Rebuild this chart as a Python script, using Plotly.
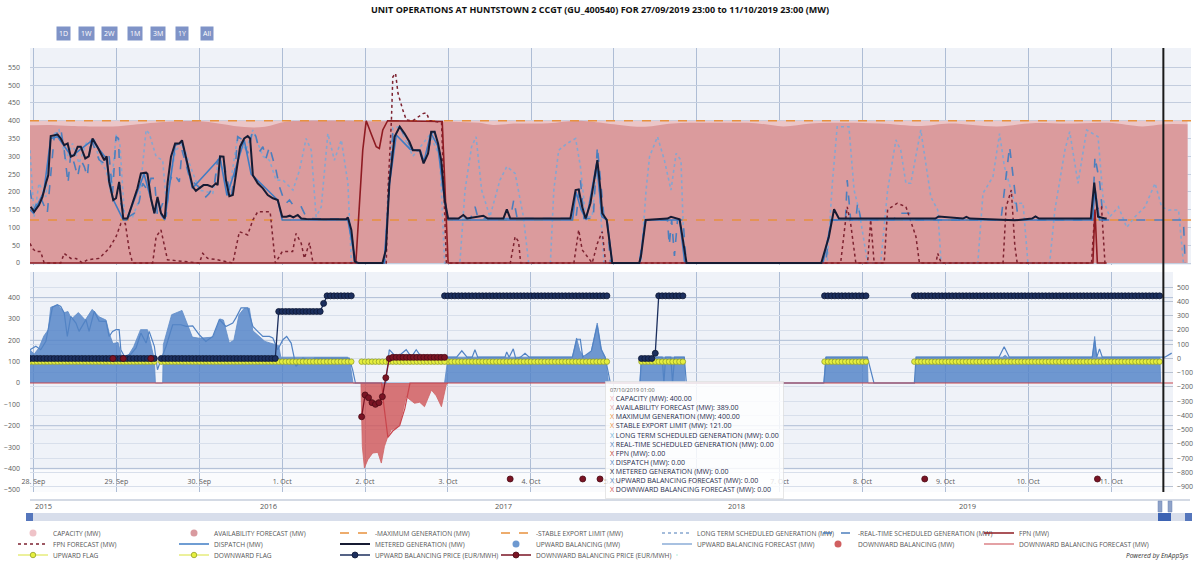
import plotly.graph_objects as go
import pandas as pd

# ---------------- data (hours after 27/09/2019 23:00, value) ----------------
T0 = pd.Timestamp("2019-09-27 23:00")
NOW_H = 328

CAPACITY = [(0, 400), (335, 400)]
AVAILABILITY = [(0, 387), (6, 388), (12, 385), (24, 384), (30, 389), (40, 397), (50, 398), (56, 390),
                (62, 382), (68, 383), (74, 397), (80, 400), (94, 400), (100, 398), (110, 400), (122, 397),
                (130, 394), (134, 388), (140, 392), (150, 393), (158, 400), (162, 398), (170, 389),
                (178, 383), (186, 392), (200, 394), (210, 393), (218, 384), (226, 392), (236, 394),
                (246, 392), (258, 385), (266, 392), (280, 384), (290, 393), (300, 392), (312, 394),
                (322, 384), (328, 390), (335, 390)]
MAX_GEN = [(0, 400), (336, 400)]
STABLE_EXPORT = [(0, 121), (336, 121)]

LONG_TERM = [(0, 317), (1.2, 130), (2.6, 224), (4.6, 186), (6, 355), (8.4, 374), (10.4, 289), (12.3, 336),
             (14.2, 280), (16.2, 336), (18.6, 350), (20, 290), (22, 261), (23.4, 196), (24.9, 360), (26, 336),
             (27.3, 140), (29.7, 130), (31.6, 177), (33.6, 374), (34.5, 364), (36.5, 299), (38.4, 289),
             (39.4, 177), (40.3, 224), (42.2, 317), (44.2, 336), (46.1, 280), (49, 205), (52.9, 196),
             (54.8, 299), (57.7, 205), (60.1, 355), (62.5, 317), (64.5, 374), (67.4, 300), (69.3, 289),
             (71.2, 233), (73.2, 233), (76.1, 205), (78, 261), (79.9, 350), (81.4, 317), (82.8, 130),
             (84.3, 158), (86.2, 364), (88.1, 289), (90.1, 346), (92, 224), (93, 0), (102.6, 0), (105, 380),
             (107, 383), (110.8, 300), (115.7, 360), (118.6, 300), (120, 0), (124.4, 0), (125.9, 205),
             (127.8, 327), (129.1, 355), (130.7, 205), (133.1, 130), (136, 233), (138, 271), (140.4, 252),
             (142.8, 130), (144.3, 0), (150.6, 0), (151.6, 205), (153, 317), (155.4, 336), (157.9, 350),
             (159.3, 271), (160.8, 130), (162.7, 130), (164.2, 290), (166.1, 0), (176.8, 0), (178.3, 205),
             (179.3, 299), (181.6, 355), (183.6, 289), (185.5, 205), (187, 308), (188.4, 289), (189.4, 0),
             (230.7, 0), (232.2, 224), (233.6, 383), (237, 383), (238.5, 205), (239.9, 149), (242.4, 0),
             (246.2, 0), (248.2, 205), (250.6, 346), (252, 317), (253.5, 224), (254.9, 224), (257.8, 374),
             (260.7, 186), (262.7, 149), (263.7, 0), (274.3, 0), (275.8, 196), (278.7, 243), (280.6, 364),
             (282, 271), (285, 168), (287.4, 168), (288.8, 0), (295.1, 0), (296.6, 149), (299.5, 317),
             (300.9, 369), (303.3, 224), (305.8, 374), (309.1, 355), (310.6, 177), (312.5, 130), (315, 158),
             (317.4, 100), (319.8, 130), (322.7, 158), (325.6, 224), (327.5, 158), (329.5, 149),
             (332.4, 149), (333.8, 0)]

REAL_TIME = [(0, 205), (1, 149), (3, 186), (5, 140), (7, 355), (8.9, 378), (9.9, 317), (11, 224), (11.8, 308),
             (12.8, 280), (13.8, 243), (14.7, 290), (15.7, 271), (16.6, 243), (17.6, 350), (18.6, 327),
             (20, 290), (21.5, 280), (22.9, 300), (23.9, 196), (24.9, 355), (25.6, 350), (26.3, 168),
             (27.8, 125), (28.7, 130), (30.2, 140), (31.6, 172), (32.6, 224), (34, 205), (35, 238), (36, 238),
             (36.9, 130), (38.4, 168), (39.4, 130), (40.3, 224), (41.3, 252), (42.2, 243), (43.2, 228),
             (44, 317), (45.1, 280), (46.1, 243), (47.6, 224), (49, 214), (50, 205), (50.9, 186), (51.9, 196),
             (53.4, 224), (54.3, 289), (55.8, 299), (56.7, 252), (58.2, 186), (59.2, 243), (60.1, 355),
             (61.6, 346), (63, 308), (64.5, 374), (65.4, 355), (66.4, 313), (67.4, 327), (68.3, 294),
             (69.3, 327), (70.5, 289), (71.2, 261), (72.2, 214), (73.2, 186), (74.1, 168), (75.1, 177),
             (76.1, 163), (77.5, 158), (78.5, 158), (79.9, 130), (80.9, 125), (91.5, 123), (92, 128),
             (93, 93), (93.9, 0), (102.6, 0), (105, 364), (107, 383), (108.9, 346), (110.8, 317), (112.8, 312),
             (113.7, 289), (115.2, 308), (116.2, 364), (117.1, 369), (118.6, 308), (119.5, 205), (121, 125),
             (127.5, 125), (128.8, 158), (129.7, 125), (139, 125), (140, 177), (141, 125), (158, 125),
             (159.3, 233), (160.3, 125), (163, 125), (164.2, 327), (165.1, 224), (166.1, 130), (167.1, 111),
             (168, 0), (176.3, 0), (178.2, 121), (184.5, 121), (185, 50), (185.7, 121), (186.5, 20),
             (187.4, 121), (189, 121), (189.9, 0), (230.3, 0), (231.7, 121), (236, 121), (236.5, 233),
             (237.5, 121), (239, 121), (239.5, 168), (240.5, 121), (250, 121), (251, 140), (255, 140),
             (256, 121), (281, 121), (283.5, 327), (285, 205), (286, 121), (307.5, 121), (308.2, 299),
             (309.6, 224), (310.6, 121), (333.8, 121), (334.3, 0)]

FPN = [(0, 0), (94.3, 0), (96.3, 317), (97.3, 400), (98.7, 364), (100.2, 327), (101.1, 322), (102.1, 374),
       (103.5, 400), (107, 400), (113, 398), (119.3, 398), (121, 0), (307.6, 0), (308.2, 150), (308.9, 0),
       (311.6, 0)]

FPN_FORECAST = [(0, 55), (0.7, 41), (1.7, 32), (3.1, 32), (4.1, 0), (8.9, 0), (9.9, 27), (11.8, 13), (13.3, 13),
                (15.2, 0), (16.6, 9), (20, 13), (22.9, 41), (24.9, 74), (26.3, 111), (27.6, 111), (28.7, 37),
                (29.7, 0), (35.5, 0), (36.5, 74), (37.9, 93), (38.9, 46), (39.8, 9), (49, 0), (50, 27),
                (51.4, 13), (53.8, 10), (58.7, 0), (60.6, 88), (63, 79), (64.5, 121), (65.9, 144), (69.5, 144),
                (71, 0), (73, 32), (76, 32), (77, 83), (78.5, 55), (79.4, 13), (80.9, 57), (81.9, 0),
                (103.1, 0), (103.6, 205), (104.6, 402), (105, 523), (105.8, 533), (106.5, 477), (107.9, 430),
                (108.9, 402), (110.8, 400), (113.7, 420), (114.7, 422), (115.7, 400), (119.1, 395), (120.5, 0),
                (139, 0), (140.4, 74), (141.4, 60), (142, 0), (157.4, 0), (158.8, 93), (159.8, 37), (162.7, 0),
                (164.2, 55), (165.6, 88), (166.6, 0), (234.6, 0), (236.5, 158), (237.5, 111), (239, 0),
                (242.4, 0), (243.3, 121), (244.3, 0), (247.2, 0), (248.2, 150), (251, 168), (253.5, 158),
                (256.4, 74), (257.4, 0), (262.2, 0), (262.7, 27), (263.7, 0), (281.6, 0), (282.5, 158),
                (284, 205), (285, 50), (285.7, 0), (307.2, 0), (308.2, 149), (310.1, 158), (311.1, 0),
                (312, 0)]

DISPATCH = [(0, 150), (1, 140), (4, 200), (6, 350), (8, 355), (12, 300), (18, 345), (22, 295), (24, 180),
            (27, 121), (28, 121), (33, 250), (35, 180), (36, 140), (37, 180), (38, 135), (39, 121), (42, 330),
            (44, 340), (47, 210), (55, 295), (57, 190), (59, 250), (62, 345), (64, 250), (71.7, 177),
            (73, 121), (92, 121), (93.5, 40), (94.5, 0), (102.5, 0), (104, 220), (106, 360), (110, 320),
            (113, 315), (114, 285), (116, 365), (118, 330), (120, 175), (121, 121), (157, 121), (158, 200),
            (159.5, 150), (161, 121), (164, 280), (165.5, 130), (167, 121), (168.5, 0), (176.5, 0),
            (178, 121), (188, 121), (189.5, 0), (229.5, 0), (232, 121), (307.5, 121), (308.2, 210),
            (309.5, 121), (311.6, 121)]

METERED = [(0.2, 158), (1.2, 144), (2.6, 163), (3.6, 186), (4.6, 224), (5.3, 247), (6, 357), (7, 360), (8, 361),
           (8.9, 350), (9.9, 331), (10.9, 336), (11.8, 299), (12.8, 303), (13.8, 327), (14.7, 327), (16, 294),
           (17, 300), (18.1, 350), (19.5, 327), (20.5, 308), (21.5, 289), (22.2, 300), (22.9, 228),
           (24.1, 177), (24.9, 182), (25.8, 228), (27, 125), (28.2, 125), (29.7, 168), (31.1, 210),
           (32.1, 252), (33.6, 254), (34, 250), (35, 182), (36, 140), (36.9, 186), (37.9, 140), (39, 125),
           (39.8, 224), (40.8, 299), (42, 336), (43.2, 336), (44, 345), (45.1, 299), (46.1, 257), (47.1, 214),
           (48, 203), (49, 210), (50.2, 219), (51.4, 219), (52.7, 214), (53.8, 224), (54.3, 219), (55, 300),
           (56, 299), (56.7, 233), (57.7, 188), (58.7, 191), (59.8, 257), (60.8, 327), (62, 350), (63, 357),
           (63.7, 350), (64.5, 247), (65.9, 224), (67.4, 210), (68.8, 191), (70.3, 182), (71.7, 177),
           (73, 130), (74.2, 130), (75.2, 133), (76.2, 128), (77.5, 135), (78.5, 125), (80, 124), (85, 123),
           (91.5, 123), (92, 128), (93, 93), (94, 4), (95, 0), (102, 0), (103, 37), (104, 224), (105.5, 355),
           (107, 383), (108.4, 364), (109.8, 341), (110.8, 317), (112.8, 317), (113.9, 280), (115.2, 308),
           (116.1, 369), (117.1, 369), (118.1, 336), (119, 289), (120, 177), (121, 125), (124, 125),
           (125.4, 135), (126.5, 125), (131.2, 133), (132.5, 125), (137, 125), (138, 151), (139, 125),
           (156.4, 125), (157.9, 205), (158.8, 207), (159.8, 158), (160.8, 125), (162.2, 168), (163.2, 224),
           (164.2, 289), (165.1, 205), (165.6, 140), (166.9, 121), (167.9, 46), (168.5, 0), (176.3, 0),
           (176.8, 18), (178.2, 121), (181, 123), (184.5, 125), (185.5, 130), (188, 123), (188.5, 93),
           (190, 0), (229, 0), (231.2, 74), (232.7, 151), (234.1, 125), (262, 125), (263, 131), (270, 125),
           (271, 130), (272, 125), (285, 120), (290, 125), (291, 131), (292, 125), (307, 125), (308, 226),
           (309.1, 130), (311.1, 125), (311.6, 125)]

UP_BALANCING = [(0, 156), (1.2, 135), (2.6, 165), (4, 220), (5.3, 250), (6, 355), (8, 365), (10, 330), (11, 335),
                (12, 300), (14, 330), (16, 295), (18, 345), (20, 310), (22, 295), (23, 230), (24, 185),
                (25.5, 190), (26.5, 125), (28.3, 125), (30, 170), (32, 250), (34, 250), (35, 185), (36, 110),
                (36.3, 0), (38.4, 0), (38.6, 180), (40, 270), (41, 320), (44, 340), (45, 300), (47, 215),
                (49, 210), (53, 215), (55, 300), (56, 295), (57.7, 188), (59, 200), (60.5, 320), (62, 350),
                (63.5, 350), (64.5, 245), (68, 195), (71, 180), (72, 175), (72.6, 121), (92, 121), (92.6, 100),
                (93.5, 0), (120, 0), (121, 121), (157, 121), (158.2, 211), (159.2, 150), (160.5, 121),
                (162.5, 150), (164.2, 281), (165.5, 150), (166.5, 121), (167.5, 0), (176.5, 0), (177, 121),
                (189.4, 121), (189.6, 0), (229.8, 0), (230.3, 121), (242.4, 121), (242.6, 0), (256.2, 0),
                (256.5, 121), (281.5, 121), (282.3, 130), (283, 121), (307.5, 121), (308.2, 218),
                (308.8, 121), (327.1, 121), (327.3, 0)]

UP_BAL_FORECAST = [(0, 156), (1.7, 172), (3.1, 156), (4.6, 195), (6.5, 355), (7.9, 367), (8.9, 359), (9.9, 328),
                   (10.8, 218), (11.8, 312), (13.3, 281), (14.2, 242), (16.2, 297), (17.1, 242), (18.6, 336),
                   (20, 290), (22, 289), (22.9, 218), (23.9, 242), (24.9, 250), (25.8, 250), (26.3, 156),
                   (27.3, 125), (29.2, 135), (30.7, 164), (32.1, 234), (33.6, 187), (34.5, 242), (36, 172),
                   (36.9, 62), (37.9, 109), (39.4, 172), (41.3, 273), (43.7, 273), (45.2, 265), (47.1, 268),
                   (49, 226), (50.9, 195), (52.9, 218), (54.8, 297), (56.7, 265), (58.7, 281), (59.6, 305),
                   (61.1, 352), (63, 352), (64.5, 265), (65.9, 242), (67.4, 218), (69.3, 218), (70.3, 211),
                   (71.7, 156), (73.2, 203), (74.3, 218), (75.6, 187), (77, 78), (79, 117), (81.4, 101),
                   (82.4, 117), (92.4, 117), (93.4, 62), (94.2, 0), (103, 0), (104, 156), (105.5, 130),
                   (107, 130), (108.9, 156), (110.4, 121), (111.8, 156), (113.3, 121), (123.5, 121),
                   (125, 151), (126.5, 121), (128, 121), (128.8, 156), (129.6, 121), (137.5, 121), (138, 145),
                   (138.7, 121), (139.9, 160), (140.6, 115), (142, 121), (143.3, 139), (144.5, 121), (157, 121),
                   (158.3, 205), (159.3, 205), (160, 121), (162.5, 150), (164.2, 270), (165.3, 160),
                   (166.5, 121), (168, 0), (176.6, 0), (177, 121), (183, 121), (183.5, 0), (184, 121),
                   (185.5, 121), (186, 0), (186.6, 121), (189.4, 121), (190, 0), (229.8, 0), (230.5, 121),
                   (242.4, 121), (244.3, 0), (256, 0), (256.5, 121), (280.5, 121), (282, 170), (283.5, 121),
                   (307.5, 121), (308.2, 200), (308.8, 121), (309.6, 160), (310.4, 121), (328.5, 121),
                   (330.5, 140)]

DOWN_BALANCING = [(95.8, 0), (96.2, -297), (96.8, -398), (97.8, -359), (99.2, -328), (100.7, -325),
                  (101.7, -375), (102.6, -297), (103.6, -250), (104.6, -219), (106, -211), (107, -195),
                  (108.9, -64), (111.3, -95), (112.8, -90), (114.2, -111), (116.2, -33), (117.6, -60),
                  (119.1, -111), (120.5, -8), (121, 0)]

DOWN_BAL_FORECAST = [(0, 0), (101.8, 0), (102.4, -100), (103.6, -255), (105, -225), (107, -200), (108.5, -120),
                     (110, 0), (331, 0)]

FLAG_LEVEL = 100
UP_FLAG_RUNS = [(0, 36), (38, 93), (121, 167), (177, 189), (230, 242), (256, 327)]
DOWN_FLAG_RUNS = [(96, 120)]

UP_PRICE_RUNS = [(0, 36, 0), (38, 71, 0), (72, 84, 330), (85, 85, 387), (86, 93, 440), (120, 167, 440),
                 (177, 180, 0), (181, 181, 37), (182, 189, 440), (230, 242, 440), (256, 327, 440)]
DOWN_PRICE = [(24, 0), (27, 0), (35, 0), (96, -409), (97, -256), (98, -275), (99, -310), (100, -322),
              (101, -310), (102, -268), (103, -135), (104, 0), (105, 8), (106, 8), (107, 8), (108, 8),
              (109, 8), (110, 8), (111, 8), (112, 8), (113, 8), (114, 8), (115, 8), (116, 8), (117, 8),
              (118, 8), (119, 8), (120, 8), (139, -846), (160, -846), (165, -846), (259, -846), (309, -846)]

YEARS = ["2015", "2016", "2017", "2018", "2019"]
RANGE_BUTTONS = ["1D", "1W", "2W", "1M", "3M", "1Y", "All"]

FONT = "Open Sans"


def ts(h):
    return T0 + pd.Timedelta(hours=h)


def xy(pairs):
    return [ts(h) for h, _ in pairs], [v for _, v in pairs]


def hourly(points):
    """points: list of (hour, value); break the line where hours are not consecutive."""
    xs, ys = [], []
    prev = None
    for h, v in points:
        if prev is not None and h - prev > 1:
            xs.append(ts(prev + 0.5)); ys.append(None)
        xs.append(ts(h)); ys.append(v)
        prev = h
    return xs, ys


def runs_to_points(runs, value=None):
    pts = []
    for r in runs:
        s, e = r[0], r[1]
        v = value if value is not None else r[2]
        for h in range(s, e + 1):
            pts.append((h, v))
    return pts


fig = go.Figure()

# ---------------- top panel ----------------
x, y = xy(CAPACITY)
fig.add_trace(go.Scatter(x=x, y=y, mode="lines", line=dict(width=0, color="#EBC6C8"), fill="tozeroy",
                         fillcolor="#EBC6C8", showlegend=False, hoverinfo="skip", xaxis="x", yaxis="y"))
x, y = xy(AVAILABILITY)
fig.add_trace(go.Scatter(x=x, y=y, mode="lines", line=dict(width=0, color="#DB9B9D", shape="spline"),
                         fill="tozeroy", fillcolor="#DB9B9D", showlegend=False, xaxis="x", yaxis="y"))
x, y = xy(MAX_GEN)
fig.add_trace(go.Scatter(x=x, y=y, mode="lines", name="-MAXIMUM GENERATION (MW)", legend="legend", legendrank=3,
                         line=dict(color="#E8913E", width=1.6, dash="dash"), xaxis="x", yaxis="y"))
x, y = xy(STABLE_EXPORT)
fig.add_trace(go.Scatter(x=x, y=y, mode="lines", name="-STABLE EXPORT LIMIT (MW)", legend="legend", legendrank=4,
                         line=dict(color="#E8913E", width=1.6, dash="dash"), xaxis="x", yaxis="y"))
x, y = xy(LONG_TERM)
fig.add_trace(go.Scatter(x=x, y=y, mode="lines", name="LONG TERM SCHEDULED GENERATION (MW)", legend="legend",
                         legendrank=5, line=dict(color="#86A6CF", width=1.6, dash="dot"), xaxis="x", yaxis="y"))
x, y = xy(REAL_TIME)
fig.add_trace(go.Scatter(x=x, y=y, mode="lines", name="-REAL-TIME SCHEDULED GENERATION (MW)", legend="legend",
                         legendrank=6, line=dict(color="#4C7FBD", width=1.6, dash="dash"), xaxis="x", yaxis="y"))
x, y = xy(FPN_FORECAST)
fig.add_trace(go.Scatter(x=x, y=y, mode="lines", name="FPN FORECAST (MW)", legend="legend2", legendrank=1,
                         line=dict(color="#7D2230", width=1.5, dash="dot"), xaxis="x", yaxis="y"))
x, y = xy(DISPATCH)
fig.add_trace(go.Scatter(x=x, y=y, mode="lines", name="DISPATCH (MW)", legend="legend2", legendrank=2,
                         line=dict(color="#3F7CC4", width=1.6), xaxis="x", yaxis="y"))
x, y = xy(FPN)
fig.add_trace(go.Scatter(x=x, y=y, mode="lines", name="FPN (MW)", legend="legend", legendrank=7,
                         line=dict(color="#8E1B22", width=1.6), xaxis="x", yaxis="y"))
x, y = xy(METERED)
fig.add_trace(go.Scatter(x=x, y=y, mode="lines", name="METERED GENERATION (MW)", legend="legend2", legendrank=3,
                         line=dict(color="#161B33", width=2), xaxis="x", yaxis="y"))

# ---------------- bottom panel ----------------
x, y = xy(UP_BALANCING)
fig.add_trace(go.Scatter(x=x, y=y, mode="lines", line=dict(width=0.8, color="#5E8BC8"), fill="tozeroy",
                         fillcolor="rgba(82,130,199,0.82)", showlegend=False, xaxis="x2", yaxis="y2"))
x, y = xy(DOWN_BALANCING)
fig.add_trace(go.Scatter(x=x, y=y, mode="lines", line=dict(width=0.8, color="#CF6466"), fill="tozeroy",
                         fillcolor="rgba(207,84,86,0.8)", showlegend=False, xaxis="x2", yaxis="y2"))
x, y = xy(UP_BAL_FORECAST)
fig.add_trace(go.Scatter(x=x, y=y, mode="lines", name="UPWARD BALANCING FORECAST (MW)", legend="legend2",
                         legendrank=5, line=dict(color="#5283C4", width=1.2), xaxis="x2", yaxis="y2"))
x, y = xy(DOWN_BAL_FORECAST)
fig.add_trace(go.Scatter(x=x, y=y, mode="lines", name="DOWNWARD BALANCING FORECAST (MW)", legend="legend4",
                         legendrank=7, line=dict(color="#C9454C", width=1.2), xaxis="x2", yaxis="y2"))

x, y = hourly(runs_to_points(UP_FLAG_RUNS, FLAG_LEVEL))
fig.add_trace(go.Scatter(x=x, y=y, mode="lines+markers", name="UPWARD FLAG", legend="legend3", legendrank=1,
                         line=dict(color="#D9E23A", width=1),
                         marker=dict(size=5.5, color="#E6EF3E", line=dict(color="#939F2C", width=0.8)),
                         xaxis="x2", yaxis="y2"))
x, y = hourly(runs_to_points(DOWN_FLAG_RUNS, FLAG_LEVEL))
fig.add_trace(go.Scatter(x=x, y=y, mode="lines+markers", name="DOWNWARD FLAG", legend="legend3", legendrank=2,
                         line=dict(color="#D9E23A", width=1),
                         marker=dict(size=5.5, color="#E6EF3E", line=dict(color="#939F2C", width=0.8)),
                         xaxis="x2", yaxis="y2"))
x, y = hourly(runs_to_points(UP_PRICE_RUNS))
fig.add_trace(go.Scatter(x=x, y=y, mode="lines+markers", name="UPWARD BALANCING PRICE (EUR/MWH)", legend="legend3",
                         legendrank=3, line=dict(color="#1C2F5E", width=1.3),
                         marker=dict(size=6, color="#1C2F5E", line=dict(color="#0D1733", width=0.8)),
                         xaxis="x2", yaxis="y3"))
x, y = hourly(DOWN_PRICE)
fig.add_trace(go.Scatter(x=x, y=y, mode="lines+markers", name="DOWNWARD BALANCING PRICE (EUR/MWH)",
                         legend="legend3", legendrank=4, line=dict(color="#7A1424", width=1.3),
                         marker=dict(size=6, color="#7A1424", line=dict(color="#4A0A14", width=0.8)),
                         xaxis="x2", yaxis="y3"))

# legend-only symbols for the area series
for name, col, leg, rank in [("CAPACITY (MW)", "#EFC3C8", "legend", 1),
                             ("AVAILABILITY FORECAST (MW)", "#D99A9F", "legend", 2),
                             ("UPWARD BALANCING (MW)", "#6E99D0", "legend2", 4),
                             ("DOWNWARD BALANCING (MW)", "#D05F60", "legend2", 6)]:
    fig.add_trace(go.Scatter(x=[None], y=[None], mode="markers", name=name, legend=leg, legendrank=rank,
                             marker=dict(size=7, color=col), xaxis="x", yaxis="y"))
# empty trailing slot so the last entry of the third legend row is not clipped
fig.add_trace(go.Scatter(x=[None], y=[None], mode="markers", name=" ", legend="legend3", legendrank=99,
                         marker=dict(size=1, opacity=0), hoverinfo="skip", xaxis="x", yaxis="y"))

# ---------------- layout ----------------
W, H = 1200, 564
ML, MR, MT, MB = 30, 9, 48, 72
PW = W - ML - MR
PH = H - MT - MB


def px_x(p):
    return (p - ML) / PW


def px_y(p):
    return (H - MB - p) / PH


GRID_V = "#AEBDD5"
GRID_H = "#C3CDDE"
TICKFONT = dict(family=FONT, size=7, color="#5A5A5A")

top_bottom = px_y(265)
bot_top = px_y(272)
bot_right = px_x(1173)
day_ticks = [pd.Timestamp("2019-09-28") + pd.Timedelta(days=d) for d in range(14)]

LEG = dict(orientation="h", xanchor="left", yanchor="middle", entrywidth=116, entrywidthmode="pixels",
           itemwidth=30, bgcolor="rgba(0,0,0,0)", font=dict(family=FONT, size=6.6, color="#555"),
           traceorder="normal")
LEG_X0 = 13
LEG_STEP = 161

fig.update_layout(
    width=W, height=H,
    margin=dict(l=ML, r=MR, t=MT, b=MB, pad=0, autoexpand=False),
    paper_bgcolor="white", plot_bgcolor="#EFF2F8",
    font=dict(family=FONT, size=7, color="#444"),
    title=dict(text="<b>UNIT OPERATIONS AT HUNTSTOWN 2 CCGT (GU_400540) FOR 27/09/2019 23:00 to 11/10/2019 23:00 (MW)</b>",
               x=0.5, xanchor="center", xref="container", y=1 - 10 / H, yref="container", yanchor="middle",
               font=dict(family=FONT, size=9, color="#111")),
    xaxis=dict(domain=[0, 1], range=[ts(0), ts(336)], anchor="y", showticklabels=False, tickvals=day_ticks,
               showgrid=True, gridcolor=GRID_V, gridwidth=1, zeroline=False, showline=False, ticks=""),
    yaxis=dict(domain=[top_bottom, 1], range=[-5.6, 604.4], anchor="x", tickvals=list(range(0, 551, 50)),
               showgrid=True, gridcolor=GRID_H, zeroline=False, showline=False, tickfont=TICKFONT,
               ticklabelstandoff=9),
    xaxis2=dict(domain=[0, bot_right], range=[ts(0), ts(1143 / 3.4545)], anchor="free", position=px_y(474),
                tickvals=day_ticks, tickformat="%-d. %b", tickfont=TICKFONT, ticklabelstandoff=2,
                showgrid=True, gridcolor=GRID_V, zeroline=False, showline=False, ticks=""),
    yaxis2=dict(domain=[0, bot_top], range=[-510.5, 520], anchor="x2", tickvals=list(range(-500, 401, 100)),
                showgrid=False, zeroline=False, showline=False, tickfont=TICKFONT, ticklabelstandoff=9),
    yaxis3=dict(range=[-937.5, 607.4], overlaying="y2", side="right", anchor="x2",
                tickvals=list(range(-900, 501, 100)), showgrid=True, gridcolor="#D8DFEB", zeroline=False,
                showline=False, ticks="inside", ticklen=9, tickcolor="#B8C2D2", tickfont=TICKFONT,
                ticklabelstandoff=3),
    legend=dict(LEG, x=px_x(LEG_X0), y=px_y(533)),
    legend2=dict(LEG, x=px_x(LEG_X0), y=px_y(544)),
    legend3=dict(LEG, x=px_x(LEG_X0), y=px_y(555)),
    legend4=dict(LEG, x=px_x(LEG_X0 + 6 * LEG_STEP), y=px_y(544), entrywidth=0),
    hovermode="x",
)

shapes = []
# darker left-axis grid lines in lower panel
for v in [400, 200, -200, -400]:
    shapes.append(dict(type="line", xref="x2 domain", x0=0, x1=1, yref="y2", y0=v, y1=v,
                       line=dict(color="#AFBDD5", width=1), layer="below"))
# label strip at the bottom of the lower panel
shapes.append(dict(type="rect", xref="x2 domain", x0=0, x1=1, yref="y2 domain", y0=0, y1=22 / 220,
                   fillcolor="#FAFBFD", line=dict(width=0), layer="below"))
# current-time line
shapes.append(dict(type="line", xref="x", x0=ts(NOW_H), x1=ts(NOW_H), yref="paper", y0=0, y1=1,
                   line=dict(color="#1A1A1A", width=2)))
# navigator
shapes.append(dict(type="line", xref="paper", x0=px_x(30), x1=px_x(1190), yref="paper", y0=px_y(500),
                   y1=px_y(500), line=dict(color="#A9B5CA", width=1)))
shapes.append(dict(type="rect", xref="paper", x0=px_x(30), x1=px_x(1190), yref="paper", y0=px_y(521),
                   y1=px_y(513), fillcolor="#D8DEEB", line=dict(width=0)))
shapes.append(dict(type="rect", xref="paper", x0=px_x(26), x1=px_x(33), yref="paper", y0=px_y(521),
                   y1=px_y(513), fillcolor="#5576BC", line=dict(width=0)))
shapes.append(dict(type="rect", xref="paper", x0=px_x(1185), x1=px_x(1192), yref="paper", y0=px_y(521),
                   y1=px_y(513), fillcolor="#5576BC", line=dict(width=0)))
shapes.append(dict(type="rect", xref="paper", x0=px_x(1158), x1=px_x(1171), yref="paper", y0=px_y(521),
                   y1=px_y(513), fillcolor="#3D63B3", line=dict(width=0)))
for hx in [1158, 1168]:
    shapes.append(dict(type="rect", xref="paper", x0=px_x(hx), x1=px_x(hx + 4), yref="paper", y0=px_y(512),
                       y1=px_y(501), fillcolor="#8FA3C9", line=dict(color="#6F86B5", width=0.5)))
fig.update_layout(shapes=shapes)

ann = []
btn_x = [63, 86, 109, 135, 158, 182, 207]
for t, bx in zip(RANGE_BUTTONS, btn_x):
    ann.append(dict(text=t, xref="paper", yref="paper", x=px_x(bx), y=px_y(33), showarrow=False,
                    font=dict(family=FONT, size=7, color="white"), bgcolor="#7F93C7", borderpad=2,
                    xanchor="center", yanchor="middle"))
year_x = [43, 268, 503, 737, 967]
for t, yx in zip(YEARS, year_x):
    ann.append(dict(text=t, xref="paper", yref="paper", x=px_x(yx), y=px_y(506), showarrow=False,
                    font=dict(family=FONT, size=7.5, color="#555"), xanchor="center", yanchor="middle"))
ann.append(dict(text="<i>Powered by EnAppSys</i>", xref="paper", yref="paper", x=px_x(1190), y=px_y(555),
                showarrow=False, font=dict(family=FONT, size=6.5, color="#333"), xanchor="right",
                yanchor="middle"))

tip_rows = [("#F0B6BC", "CAPACITY (MW): 400.00"),
            ("#E39FA4", "AVAILABILITY FORECAST (MW): 389.00"),
            ("#E8913E", "MAXIMUM GENERATION (MW): 400.00"),
            ("#E8913E", "STABLE EXPORT LIMIT (MW): 121.00"),
            ("#6FB3D6", "LONG TERM SCHEDULED GENERATION (MW): 0.00"),
            ("#4C7FBD", "REAL-TIME SCHEDULED GENERATION (MW): 0.00"),
            ("#C0392B", "FPN (MW): 0.00"),
            ("#4C7FBD", "DISPATCH (MW): 0.00"),
            ("#161B33", "METERED GENERATION (MW): 0.00"),
            ("#4C7FBD", "UPWARD BALANCING FORECAST (MW): 0.00"),
            ("#D9534F", "DOWNWARD BALANCING FORECAST (MW): 0.00")]
tip = '<span style="font-size:5.5px;color:#555">07/10/2019 01:00</span>'
for col, txt in tip_rows:
    tip += '<br><span style="color:%s">X</span> %s' % (col, txt)
ann.append(dict(text=tip, xref="paper", yref="paper", x=px_x(605), y=px_y(381), xanchor="left",
                yanchor="top", align="left", showarrow=False, bgcolor="rgba(255,255,255,0.82)",
                bordercolor="rgba(215,215,215,0.6)", borderwidth=1, borderpad=4,
                font=dict(family=FONT, size=7, color="#1E2A4A")))
fig.update_layout(annotations=ann)

fig.write_html("out.html", config={"displayModeBar": False},
               post_script="document.body.style.margin='0';document.body.style.overflow='hidden';")
